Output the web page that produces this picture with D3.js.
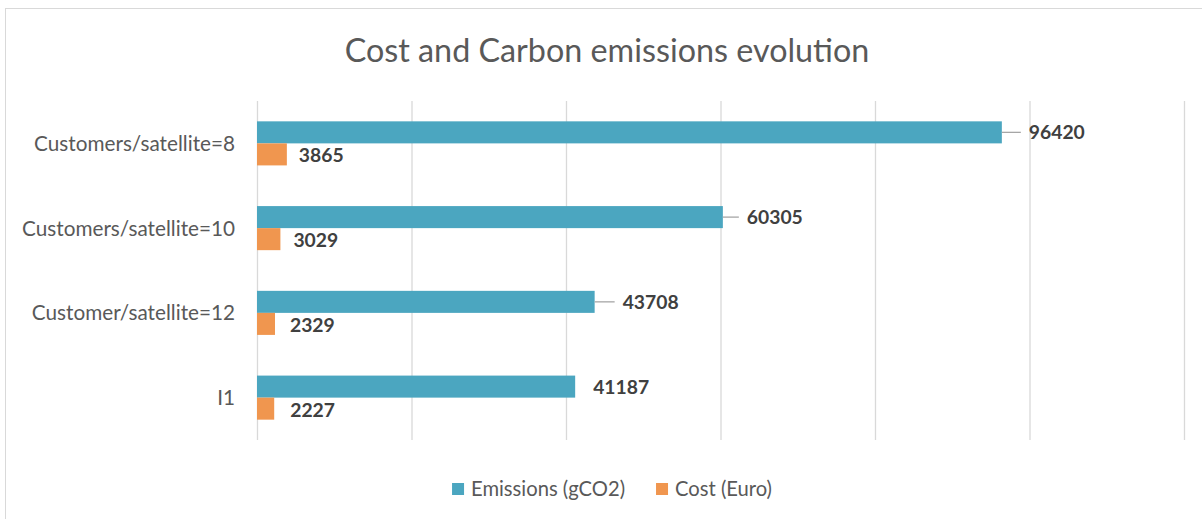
<!DOCTYPE html>
<html>
<head>
<meta charset="utf-8">
<script src="https://cdn.jsdelivr.net/npm/d3@7"></script>
<style>
  html, body { margin: 0; padding: 0; background: #ffffff; }
  svg { display: block; font-family: Lato, "Open Sans", sans-serif; }
</style>
</head>
<body>
<svg id="chart" width="1202" height="519"></svg>
<script>
// ---- data ----
const categories = ["Customers/satellite=8", "Customers/satellite=10", "Customer/satellite=12", "I1"];
const emissions = [96420, 60305, 43708, 41187];
const cost = [3865, 3029, 2329, 2227];
const seriesNames = ["Emissions (gCO2)", "Cost (Euro)"];
const xTicks = [0, 20000, 40000, 60000, 80000, 100000, 120000];
const titleText = "Cost and Carbon emissions evolution";

// ---- style / layout ----
const colors = ["#4BA6C0", "#F0964F"];
const emLabelDx = [27, 24, 28, 18];
const emLeader = [true, true, true, false];
const costLabelDx = [12, 13, 15, 16];

const svg = d3.select("#chart");
const plot = { left: 257, right: 1184, top: 101, bottom: 440 };

// fit a font size so that a reference string reaches a target width
function fitSize(str, target, weight) {
  const t = svg.append("text").attr("font-size", 100).attr("font-weight", weight || "normal").text(str);
  const w = t.node().getComputedTextLength();
  t.remove();
  return 100 * target / w;
}
const titleSize = fitSize(titleText, 525);
const catSize = fitSize("Customers/satellite=10", 213);
const valSize = fitSize("96420", 56, "bold");
const legSize = fitSize("Emissions (gCO2)", 154);

// frame
svg.append("rect")
  .attr("x", 5.5).attr("y", 8.5).attr("width", 1240).attr("height", 560)
  .attr("fill", "#fff").attr("stroke", "#D9D9D9").attr("stroke-width", 1);

// title
svg.append("text")
  .attr("x", 607).attr("y", 50).attr("dy", "0.36em")
  .attr("text-anchor", "middle")
  .attr("font-size", titleSize).attr("fill", "#595959")
  .text(titleText);

const x = d3.scaleLinear().domain([0, 120000]).range([plot.left, plot.right]);
const y = d3.scaleBand().domain(categories).range([plot.top, plot.bottom])
  .paddingInner(0.48).paddingOuter(0.24);
const ys = d3.scaleBand().domain(seriesNames).range([0, y.bandwidth()]);

// gridlines
const grid = svg.append("g").attr("transform", `translate(0,${plot.top})`)
  .call(d3.axisTop(x).tickValues(xTicks).tickSize(-(plot.bottom - plot.top)).tickFormat(""));
grid.select(".domain").remove();
grid.selectAll("line").attr("stroke", "#D9D9D9").attr("stroke-width", 1.3);

// category labels
svg.append("g").selectAll("text").data(categories).join("text")
  .attr("x", 235).attr("y", d => y(d) + y.bandwidth() / 2).attr("dy", "0.36em")
  .attr("text-anchor", "end").attr("font-size", catSize).attr("fill", "#595959")
  .text(d => d);

const series = [emissions, cost];
series.forEach((vals, si) => {
  svg.append("g").selectAll("rect").data(vals).join("rect")
    .attr("x", x(0)).attr("y", (d, i) => y(categories[i]) + ys(seriesNames[si]))
    .attr("width", d => x(d) - x(0)).attr("height", ys.bandwidth())
    .attr("fill", colors[si]);
});

// leader lines for emissions labels
svg.append("g").selectAll("line").data(emissions).join("line")
  .filter((d, i) => emLeader[i])
  .attr("x1", d => x(d)).attr("x2", (d, i) => x(d) + emLabelDx[i] - 8)
  .attr("y1", (d, i) => y(categories[i]) + ys(seriesNames[0]) + ys.bandwidth() / 2)
  .attr("y2", (d, i) => y(categories[i]) + ys(seriesNames[0]) + ys.bandwidth() / 2)
  .attr("stroke", "#A6A6A6").attr("stroke-width", 1.3);

// value labels
svg.append("g").selectAll("text").data(emissions).join("text")
  .attr("x", (d, i) => x(d) + emLabelDx[i])
  .attr("y", (d, i) => y(categories[i]) + ys(seriesNames[0]) + ys.bandwidth() / 2)
  .attr("dy", "0.36em").attr("font-size", valSize).attr("font-weight", "bold")
  .attr("fill", "#404040").text(d => d);
svg.append("g").selectAll("text").data(cost).join("text")
  .attr("x", (d, i) => x(d) + costLabelDx[i])
  .attr("y", (d, i) => y(categories[i]) + ys(seriesNames[1]) + ys.bandwidth() / 2 + 1)
  .attr("dy", "0.36em").attr("font-size", valSize).attr("font-weight", "bold")
  .attr("fill", "#404040").text(d => d);

// legend
const leg = svg.append("g");
const legY = 489;
const sq = 12, gapSq = 7, gapItem = 31;
const items = seriesNames.map((n, i) => {
  const g = leg.append("g");
  g.append("rect").attr("y", legY - sq / 2).attr("width", sq).attr("height", sq).attr("fill", colors[i]);
  const t = g.append("text").attr("x", sq + gapSq).attr("y", legY).attr("dy", "0.36em")
    .attr("font-size", legSize).attr("fill", "#595959").text(n);
  return { g, w: sq + gapSq + t.node().getComputedTextLength() };
});
const total = d3.sum(items, d => d.w) + gapItem * (items.length - 1);
let cx = 612 - total / 2;
items.forEach(it => { it.g.attr("transform", `translate(${cx},0)`); cx += it.w + gapItem; });
</script>
</body>
</html>
